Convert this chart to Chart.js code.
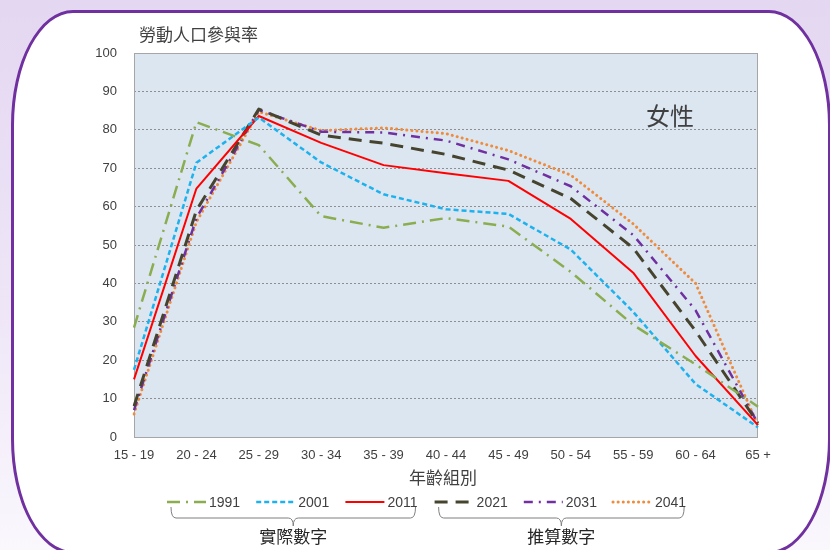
<!DOCTYPE html>
<html lang="zh-Hant">
<head>
<meta charset="utf-8">
<title>勞動人口參與率 - 女性</title>
<script src="https://cdn.jsdelivr.net/npm/chart.js@4/dist/chart.umd.min.js"></script>
<style>
  html, body { margin: 0; padding: 0; }
  body {
    width: 830px; height: 550px; overflow: hidden; position: relative;
    background: linear-gradient(to bottom, #e4d7f1 0%, #eee6f7 55%, #faf7fd 100%);
  }
  .card {
    position: absolute; left: 11px; top: 10px; width: 820px; height: 544px;
    box-sizing: border-box; border: 3px solid #7030a0;
    border-radius: 62px / 115px; background: #fff;
  }
  .wrap { position: absolute; left: 0; top: 0; width: 830px; height: 550px; }
</style>
</head>
<body>
<div class="card"></div>
<div class="wrap"><canvas id="lfprChart" width="830" height="550"></canvas></div>
<script>
// --- Data ---
const AGE_GROUPS = ['15 - 19', '20 - 24', '25 - 29', '30 - 34', '35 - 39', '40 - 44',
  '45 - 49', '50 - 54', '55 - 59', '60 - 64', '65 +'];
const YEARS = ['1991', '2001', '2011', '2021', '2031', '2041'];

const RATE_1991 = [28.5, 82, 76, 57.5, 54.5, 57, 54.8, 43, 29.2, 18.9, 7.9];
const RATE_2001 = [17.5, 71.4, 83.2, 71.5, 63.2, 59.3, 58.1, 48.8, 32.6, 13.8, 2.5];
const RATE_2011 = [15, 64.7, 83.6, 76.6, 70.8, 68.7, 66.7, 56.8, 42.8, 21.1, 3.1];
const RATE_2021 = [8, 59, 85.4, 78.6, 76.5, 73.6, 69.5, 62.1, 49.2, 27.6, 3.6];
const RATE_2031 = [7, 57, 85.2, 79.5, 79.3, 77.2, 72.3, 65.3, 52.6, 33, 3.5];
const RATE_2041 = [6, 56, 84.7, 79.8, 80.5, 79, 74.6, 68.2, 55.5, 40, 3];

const Y_TICKS = [0, 10, 20, 30, 40, 50, 60, 70, 80, 90, 100];

const RATES = [RATE_1991, RATE_2001, RATE_2011, RATE_2021, RATE_2031, RATE_2041];

// actual figures vs projections (legend groups)
const GROUPS = [
  { label: '實際數字', from: 0, to: 2 },
  { label: '推算數字', from: 3, to: 5 },
];

// --- Styles ---
const LINE_STYLES = [
  { color: '#8aad50', width: 2.5, dash: [13, 6, 2, 6], cap: 'butt' },
  { color: '#1db2ee', width: 2.5, dash: [5, 3], cap: 'butt' },
  { color: '#ff0000', width: 2, dash: [], cap: 'butt' },
  { color: '#46442f', width: 3, dash: [13, 8], cap: 'butt' },
  { color: '#7030a0', width: 2.5, dash: [9, 6, 2, 6], cap: 'butt' },
  { color: '#ef8b3c', width: 3, dash: [0.1, 5], cap: 'round' },
];

const TEXT_COLOR = '#404040';
const NUM_FONT = '"Liberation Sans", Arial, sans-serif';
const CJK_FONT = '"Noto Sans CJK TC", "Noto Sans CJK SC", sans-serif';

const PLOT_BG = '#dce6f1';
const PLOT_BORDER = '#a6a6a6';

const LEGEND_LEFT = 167;
const LEGEND_STEP = 89.2;
const LEGEND_Y = 502;
const SAMPLE_LEN = 39;

// --- Drawing helpers ---
function drawText(ctx, text, x, y, font, align) {
  ctx.save();
  ctx.font = font;
  ctx.fillStyle = TEXT_COLOR;
  ctx.textAlign = align || 'left';
  ctx.textBaseline = 'middle';
  ctx.fillText(text, x, y);
  ctx.restore();
}

function drawLegend(ctx, chart) {
  const items = [];
  const font = '14px ' + NUM_FONT;
  chart.data.datasets.forEach((ds, i) => {
    const x = LEGEND_LEFT + i * LEGEND_STEP;
    ctx.save();
    ctx.strokeStyle = ds.borderColor;
    ctx.lineWidth = ds.borderWidth;
    ctx.lineCap = ds.borderCapStyle;
    ctx.setLineDash(ds.borderDash);
    ctx.beginPath();
    ctx.moveTo(x, LEGEND_Y);
    ctx.lineTo(x + SAMPLE_LEN, LEGEND_Y);
    ctx.stroke();
    ctx.restore();

    ctx.save();
    ctx.font = font;
    const w = ctx.measureText(ds.label).width;
    ctx.restore();
    drawText(ctx, ds.label, x + SAMPLE_LEN + 3, LEGEND_Y + 1, font);
    items.push({ start: x, end: x + SAMPLE_LEN + 3 + w });
  });
  return items;
}

function drawBracket(ctx, x1, x2, label) {
  const top = 507, base = 518, tip = 526, r = 5;
  const mid = (x1 + x2) / 2;
  ctx.save();
  ctx.strokeStyle = '#7f7f7f';
  ctx.lineWidth = 1;
  ctx.beginPath();
  ctx.moveTo(x1, top);
  ctx.quadraticCurveTo(x1, base, x1 + r, base);
  ctx.lineTo(mid - r, base);
  ctx.quadraticCurveTo(mid, base, mid, tip);
  ctx.quadraticCurveTo(mid, base, mid + r, base);
  ctx.lineTo(x2 - r, base);
  ctx.quadraticCurveTo(x2, base, x2, top);
  ctx.stroke();
  ctx.restore();
  ctx.save();
  ctx.font = '17px ' + CJK_FONT;
  ctx.fillStyle = '#262626';
  ctx.textAlign = 'center';
  ctx.textBaseline = 'middle';
  ctx.fillText(label, mid, 537);
  ctx.restore();
}

const decorPlugin = {
  id: 'decor',
  beforeDraw(chart) {
    const { ctx, chartArea: a } = chart;
    ctx.save();
    ctx.fillStyle = PLOT_BG;
    ctx.fillRect(a.left, a.top, a.right - a.left, a.bottom - a.top);
    ctx.restore();
  },
  beforeDatasetsDraw(chart) {
    const { ctx, chartArea: a } = chart;
    ctx.save();
    ctx.strokeStyle = PLOT_BORDER;
    ctx.lineWidth = 1;
    ctx.strokeRect(a.left + 0.5, a.top + 0.5, a.right - a.left - 1, a.bottom - a.top);
    ctx.restore();
  },
  afterDraw(chart) {
    const { ctx, chartArea: a } = chart;
    drawText(ctx, '勞動人口參與率', 139, 35, '17px ' + CJK_FONT);
    drawText(ctx, '女性', 646, 116, '24px ' + CJK_FONT);
    drawText(ctx, '年齡組別', (a.left + a.right) / 2 - 3, 478, '17px ' + CJK_FONT, 'center');

    const items = drawLegend(ctx, chart);
    GROUPS.forEach((g) => {
      drawBracket(ctx, items[g.from].start + 4, items[g.to].end - 2, g.label);
    });
  },
};

// --- Chart ---
const datasets = YEARS.map((year, i) => ({
  label: year,
  data: RATES[i],
  borderColor: LINE_STYLES[i].color,
  backgroundColor: LINE_STYLES[i].color,
  borderWidth: LINE_STYLES[i].width,
  borderDash: LINE_STYLES[i].dash,
  borderCapStyle: LINE_STYLES[i].cap,
  borderJoinStyle: 'round',
  pointRadius: 0,
  tension: 0,
  fill: false,
}));

new Chart(document.getElementById('lfprChart'), {
  type: 'line',
  data: { labels: AGE_GROUPS, datasets },
  plugins: [decorPlugin],
  options: {
    responsive: false,
    animation: false,
    layout: { padding: { left: 0, top: 53, right: 72, bottom: 0 } },
    plugins: {
      legend: { display: false },
      tooltip: { enabled: false },
    },
    scales: {
      x: {
        type: 'category',
        offset: false,
        afterFit: (scale) => { scale.height = 113; },
        grid: { display: false, drawTicks: false },
        border: { display: false },
        ticks: {
          color: TEXT_COLOR,
          font: { family: NUM_FONT, size: 13 },
          padding: 11,
          maxRotation: 0,
          autoSkip: false,
        },
      },
      y: {
        min: 0,
        max: 100,
        afterFit: (scale) => { scale.width = 134; },
        afterBuildTicks: (scale) => { scale.ticks = Y_TICKS.map((v) => ({ value: v })); },
        grid: {
          drawTicks: false,
          color: (c) => (c.tick && (c.tick.value === 0 || c.tick.value === 100) ? 'rgba(0,0,0,0)' : '#8f8f8f'),
          lineWidth: 1,
        },
        border: { display: false, dash: [2, 2] },
        ticks: {
          color: TEXT_COLOR,
          font: { family: NUM_FONT, size: 13 },
          padding: 17,
        },
      },
    },
  },
});
</script>
</body>
</html>
